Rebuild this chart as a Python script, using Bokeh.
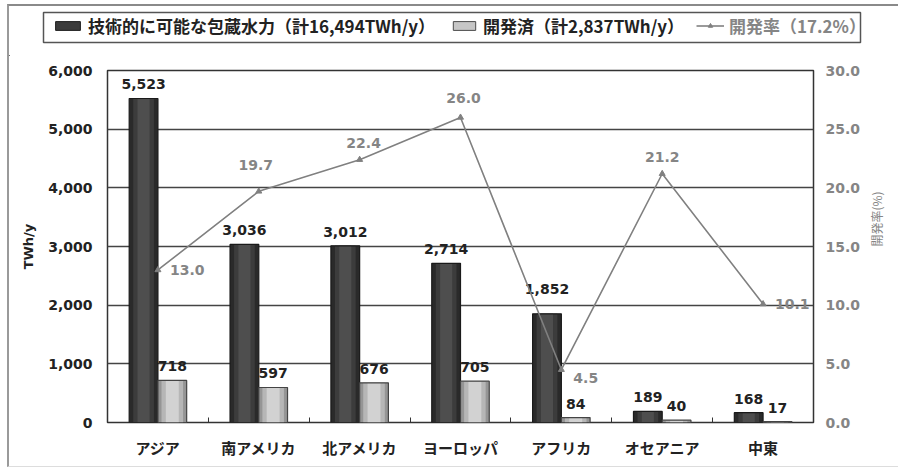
import math
from bokeh.plotting import figure
from bokeh.models import (ColumnDataSource, Range1d, LinearAxis, FixedTicker,
                          NumeralTickFormatter, Legend, LegendItem)
from bokeh.layouts import column
from bokeh.core.properties import value
from bokeh.embed import file_html
from bokeh.resources import INLINE

# Hydropower potential by region (TWh/y) and development rate (%)
regions = ["アジア", "南アメリカ", "北アメリカ", "ヨーロッパ", "アフリカ", "オセアニア", "中東"]
potential = [5523, 3036, 3012, 2714, 1852, 189, 168]
developed = [718, 597, 676, 705, 84, 40, 17]
rate = [13.0, 19.7, 22.4, 26.0, 4.5, 21.2, 10.1]

left_ticks = [0, 1000, 2000, 3000, 4000, 5000, 6000]
right_ticks = [0, 5, 10, 15, 20, 25, 30]

legend_potential = "技術的に可能な包蔵水力（計16,494TWh/y）"
legend_developed = "開発済（計2,837TWh/y）"
legend_rate = "開発率（17.2%）"

NUM_FONT = value("DejaVu Sans")
JP_FONT = "Noto Sans CJK JP"
DARK = "#3b3b3b"
LIGHT = "#c6c6c6"
LINE = "#808080"
RATE_TXT = "#858585"

# shading bands for the cylinder-like bars: (relative width, colour)
DARK_SHADES = [(1.0, "#2a2a2a"), (0.72, "#3c3c3c"), (0.42, "#4e4e4e")]
LIGHT_SHADES = [(1.0, "#959595"), (0.75, "#b6b6b6"), (0.45, "#d2d2d2")]

n = len(regions)
centers = [i + 0.5 for i in range(n)]
bar_w = 0.285

src = ColumnDataSource(dict(
    x=centers,
    x_pot=[c - bar_w / 2 for c in centers],
    x_dev=[c + bar_w / 2 for c in centers],
    potential=potential,
    developed=developed,
    rate=rate,
    pot_txt=[f"{v:,}" for v in potential],
    dev_txt=[f"{v:,}" for v in developed],
    rate_txt=[f"{v:.1f}" for v in rate],
    # lift of the value labels above the bar tops (screen px)
    pot_dy=[-9, -9, -9, -9, -20, -9, -9],
    dev_dy=[-9, -9, -9, -9, -9, -9, -9],
    # label placement for the rate values (screen px)
    rx=[12, -3, 4, 3, 12, 0, 12],
    ry=[0, -26, -17, -19, 8, -17, 0],
    ralign=["left", "center", "center", "center", "left", "center", "left"],
))

W = 889

# ---------------- main chart ----------------
p = figure(width=W, height=410, x_range=Range1d(0, n), y_range=Range1d(0, 6000),
           output_backend="svg", toolbar_location=None,
           min_border_left=98, min_border_right=85, min_border_top=14, min_border_bottom=44)
p.frame_align = False
p.extra_y_ranges = {"rate": Range1d(0, 30)}

p.outline_line_color = "#333333"
p.outline_line_width = 1.5
p.xgrid.grid_line_color = None
p.ygrid.grid_line_color = "#444444"
p.ygrid.grid_line_width = 1.3
p.ygrid.ticker = FixedTicker(ticks=left_ticks)

# x axis: region names at the centres, small marks between groups
xa = p.xaxis[0]
xa.ticker = FixedTicker(ticks=centers, minor_ticks=list(range(1, n)))
xa.major_label_overrides = {c: r for c, r in zip(centers, regions)}
xa.major_tick_in = 0
xa.major_tick_out = 0
xa.minor_tick_in = 5
xa.minor_tick_out = 0
xa.minor_tick_line_color = "#333333"
xa.axis_line_color = None
xa.major_label_standoff = 14
xa.major_label_text_font = JP_FONT
xa.major_label_text_font_style = "bold"
xa.major_label_text_font_size = "15px"
xa.major_label_text_color = "#222222"

ya = p.yaxis[0]
ya.ticker = FixedTicker(ticks=left_ticks)
ya.formatter = NumeralTickFormatter(format="0,0")
ya.major_tick_in = 0
ya.major_tick_out = 0
ya.minor_tick_line_color = None
ya.axis_line_color = None
ya.major_label_standoff = 15
ya.major_label_text_font = "DejaVu Sans"
ya.major_label_text_font_style = "bold"
ya.major_label_text_font_size = "14px"
ya.major_label_text_color = "#222222"
ya.axis_label = "TWh/y"
ya.axis_label_standoff = 9
ya.axis_label_text_font = "DejaVu Sans"
ya.axis_label_text_font_style = "bold"
ya.axis_label_text_font_size = "13px"
ya.axis_label_text_color = "#222222"

ra = LinearAxis(y_range_name="rate", ticker=FixedTicker(ticks=right_ticks),
                formatter=NumeralTickFormatter(format="0.0"))
ra.major_tick_in = 0
ra.major_tick_out = 0
ra.minor_tick_line_color = None
ra.axis_line_color = None
ra.major_label_standoff = 12
ra.major_label_text_font = "DejaVu Sans"
ra.major_label_text_font_style = "bold"
ra.major_label_text_font_size = "14px"
ra.major_label_text_color = RATE_TXT
ra.axis_label = "開発率(%)"
ra.axis_label_orientation = math.pi / 2
ra.axis_label_standoff = 13
ra.axis_label_text_font = JP_FONT
ra.axis_label_text_font_style = "normal"
ra.axis_label_text_font_size = "12px"
ra.axis_label_text_color = RATE_TXT
p.add_layout(ra, "right")

# bars, shaded in bands from the edges to the middle, then outlined
for x_col, top_col, shades, edge in (("x_pot", "potential", DARK_SHADES, "#1a1a1a"),
                                     ("x_dev", "developed", LIGHT_SHADES, "#444444")):
    for frac, col in shades:
        p.vbar(x=x_col, top=top_col, width=bar_w * frac, source=src,
               fill_color=col, line_color=None)
    p.vbar(x=x_col, top=top_col, width=bar_w, source=src,
           fill_color=None, line_color=edge, line_width=1.2)

p.text(x="x_pot", y="potential", text="pot_txt", source=src, y_offset="pot_dy",
       text_align="center", text_baseline="bottom", text_font=NUM_FONT,
       text_font_style="bold", text_font_size="14px", text_color="#222222")
p.text(x="x_dev", y="developed", text="dev_txt", source=src, y_offset="dev_dy",
       text_align="center", text_baseline="bottom", text_font=NUM_FONT,
       text_font_style="bold", text_font_size="14px", text_color="#222222")

# development rate line
p.line(x="x", y="rate", source=src, y_range_name="rate",
       line_color=LINE, line_width=1.6)
p.scatter(x="x", y="rate", source=src, y_range_name="rate",
          marker="triangle", size=6, fill_color=LINE, line_color=LINE)
p.text(x="x", y="rate", text="rate_txt", source=src, y_range_name="rate",
       x_offset="rx", y_offset="ry", text_align="ralign", text_baseline="middle",
       text_font=NUM_FONT, text_font_style="bold", text_font_size="14px",
       text_color=RATE_TXT)

# ---------------- legend strip ----------------
LH = 50
lg = figure(width=W, height=LH, x_range=Range1d(0, W), y_range=Range1d(0, LH),
            output_backend="svg", toolbar_location=None,
            min_border_left=0, min_border_right=0, min_border_top=0, min_border_bottom=0)
lg.frame_align = False
lg.axis.visible = False
lg.grid.grid_line_color = None
lg.outline_line_color = None

# legend frame
lg.quad(left=[34], right=[851], bottom=[14], top=[44],
        fill_color="white", line_color="#555555", line_width=1.5)

# key glyphs (their single point lies outside the visible range)
k_pot = lg.vbar(x=[-100], top=[1], width=1, fill_color=DARK, line_color="#1e1e1e")
k_dev = lg.vbar(x=[-100], top=[1], width=1, fill_color=LIGHT, line_color="#4a4a4a")
k_line = lg.line(x=[-100, -90], y=[1, 1], line_color=LINE, line_width=1.6)
k_mark = lg.scatter(x=[-100], y=[1], marker="triangle", size=6, fill_color=LINE, line_color=LINE)


def legend_entry(label, renderers, x, color, glyph_w):
    leg = Legend(items=[LegendItem(label=label, renderers=renderers)],
                 location=(x, 18), orientation="horizontal")
    leg.label_text_font = JP_FONT
    leg.label_text_font_style = "bold"
    leg.label_text_font_size = "17px"
    leg.label_text_color = color
    leg.glyph_width = glyph_w
    leg.glyph_height = 11
    leg.label_standoff = 5
    leg.padding = 0
    leg.margin = 0
    leg.border_line_color = None
    leg.background_fill_alpha = 0
    lg.add_layout(leg, "center")


legend_entry(legend_potential, [k_pot], 43, "#222222", 31)
legend_entry(legend_developed, [k_dev], 441, "#222222", 28)
legend_entry(legend_rate, [k_line, k_mark], 687, RATE_TXT, 28)

page = column(lg, p, spacing=0)
page.styles = {"margin-left": "7px", "margin-top": "4px",
               "border-left": "2px solid #9a9a9a", "border-top": "2px solid #8a8a8a",
               "border-bottom": "1px solid #dddddd"}

open("out.html", "w").write(file_html(page, INLINE))
